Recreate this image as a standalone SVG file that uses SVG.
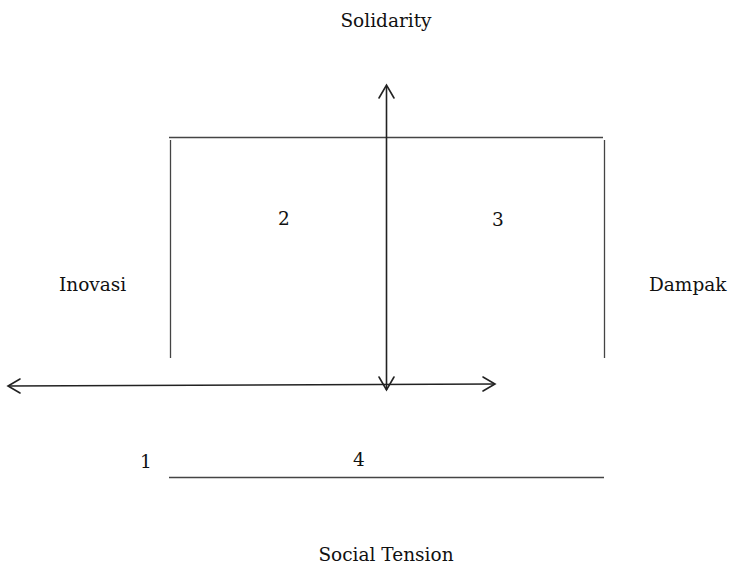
<svg xmlns="http://www.w3.org/2000/svg" width="734" height="565" viewBox="0 0 734 565">
<style>
text{font-family:"DejaVu Serif","Liberation Serif",serif;font-size:18.5px;fill:#111}
.ln{stroke:#444;stroke-width:1.3;fill:none}
.ax{stroke:#222;stroke-width:1.6;fill:none}
.hd{stroke:#222;stroke-width:1.6;fill:none;stroke-linecap:round;stroke-linejoin:miter}
</style>
<rect width="734" height="565" fill="#fff"/>
<g id="frame">
<line class="ln" x1="169" y1="137.5" x2="603" y2="137.5"/>
<line class="ln" x1="170.5" y1="140" x2="170.5" y2="358"/>
<line class="ln" x1="604.5" y1="140" x2="604.5" y2="358"/>
<line class="ln" x1="169" y1="477.5" x2="604" y2="477.5"/>
</g>
<g id="connectors">
<line class="ax" x1="386.5" y1="86" x2="386.5" y2="390"/>
<polyline class="hd" points="379,98 386.5,85 394,98"/>
<polyline class="hd" points="379,377 386.5,390 394,377"/>
<line class="ax" x1="8" y1="386" x2="495" y2="384"/>
<polyline class="hd" points="20,379 8,386 20,393"/>
<polyline class="hd" points="483,377 495,384 483,391"/>
</g>
<g id="labels">
<text x="386" y="27" text-anchor="middle">Solidarity</text>
<text x="386" y="561" text-anchor="middle">Social Tension</text>
<text x="59" y="291">Inovasi</text>
<text x="649" y="291">Dampak</text>
<text x="284" y="225" text-anchor="middle">2</text>
<text x="498" y="226" text-anchor="middle">3</text>
<text x="146" y="468" text-anchor="middle">1</text>
<text x="359" y="466" text-anchor="middle">4</text>
</g>
</svg>
